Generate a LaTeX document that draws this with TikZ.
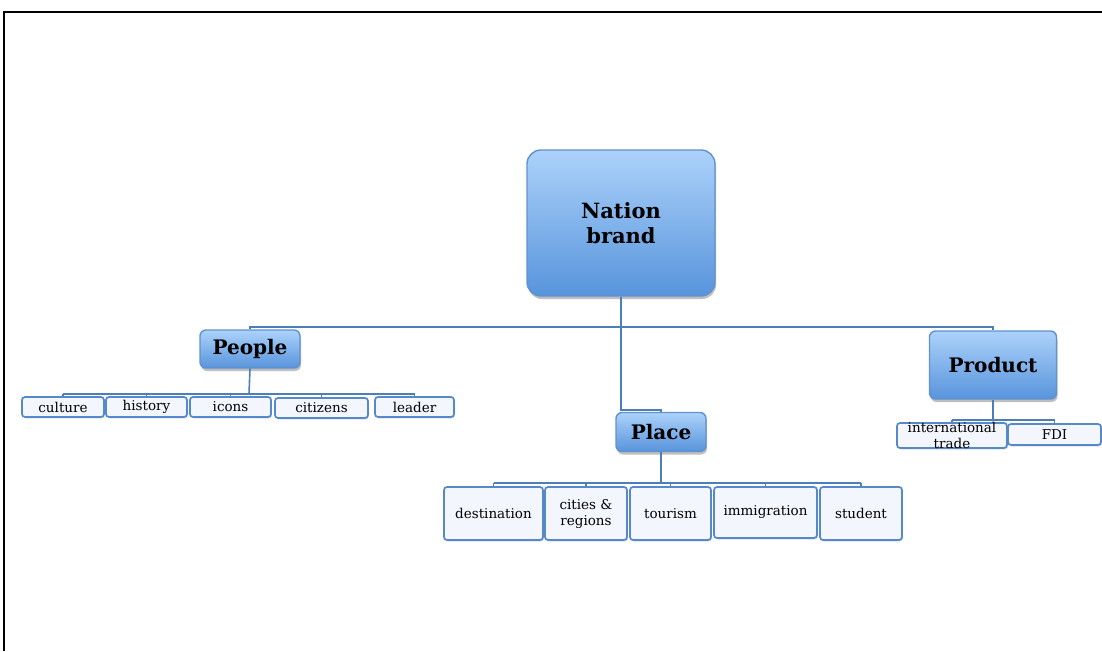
\documentclass[tikz,border=0pt]{standalone}
\usepackage{fontspec}
\setmainfont{DejaVu Serif}
\usetikzlibrary{positioning, shadows, calc}

\definecolor{brandtop}{RGB}{172,210,250}
\definecolor{brandbottom}{RGB}{88,148,220}
\definecolor{brandedge}{RGB}{96,146,208}
\definecolor{linkblue}{RGB}{76,126,186}
\definecolor{leaffill}{RGB}{243,247,253}
\definecolor{leafedge}{RGB}{86,136,204}

\tikzset{
  brandbox/.style={draw=brandedge, line width=1.4pt, rounded corners=14pt,
    top color=brandtop, bottom color=brandbottom,
    drop shadow={opacity=0.5, shadow xshift=1pt, shadow yshift=-3pt},
    font=\bfseries\fontsize{21}{25}\selectfont, align=center, inner sep=0pt},
  pillarbox/.style={brandbox, rounded corners=6pt, font=\bfseries\fontsize{20}{23}\selectfont},
  leafbox/.style={draw=leafedge, line width=1.7pt, rounded corners=3pt, fill=leaffill,
    drop shadow={opacity=0.25, shadow xshift=1pt, shadow yshift=-1.5pt},
    font=\fontsize{13.5}{16}\selectfont, align=center, inner sep=0pt},
  link/.style={draw=linkblue, line width=1.6pt}
}

\begin{document}
\begin{tikzpicture}[x=1pt, y=-1pt]
        \useasboundingbox (0,0) rectangle (1102,651);
        \fill[white] (0,0) rectangle (1102,651);
        \draw[line width=2pt] (4,651) -- (4,12) -- (1102,12);

        % top level
        \node[brandbox, minimum width=188, minimum height=146] (nation) at (621,223) {Nation\\brand};

        % pillars
        \node[pillarbox, minimum width=100, minimum height=38] (people) at (250,349) {People};
        \node[pillarbox, minimum width=90, minimum height=39] (place) at (661,432) {Place};
        \node[pillarbox, minimum width=127, minimum height=68] (product) at (993,365) {Product};

        % people leaves
        \node[leafbox, minimum width=82, minimum height=20] (culture) at (63,407) {culture};
        \node[leafbox, minimum width=81, minimum height=20] (history) at (146.5,407) {history};
        \node[leafbox, minimum width=81, minimum height=20] (icons) at (230.5,407) {icons};
        \node[leafbox, minimum width=93, minimum height=20] (citizens) at (321.5,408) {citizens};
        \node[leafbox, minimum width=79, minimum height=20] (leader) at (414.5,407) {leader};

        % place leaves
        \node[leafbox, minimum width=99, minimum height=53] (destination) at (493.5,513.5) {destination};
        \node[leafbox, minimum width=82, minimum height=53] (cities) at (586,513.5) {cities \&\\regions};
        \node[leafbox, minimum width=81, minimum height=53] (tourism) at (670.5,513.5) {tourism};
        \node[leafbox, minimum width=103, minimum height=51] (immigration) at (765.5,512.5) {immigration};
        \node[leafbox, minimum width=82, minimum height=53] (student) at (861,513.5) {student};

        % product leaves
        \node[leafbox, minimum width=110, minimum height=25] (trade) at (952,435.5) {};
        \node[font=\fontsize{13.5}{16}\selectfont, align=center, inner sep=0pt] (tradetext) at (trade) {international\\trade};
        \node[leafbox, minimum width=93, minimum height=21] (fdi) at (1054.5,434.5) {FDI};

        % connectors
        \coordinate (bus) at (621,327);
        \coordinate (placeknee) at (621,410);
        \draw[link] (nation.south) -- (placeknee) -| (place.north);
        \draw[link] (people.north) -- (people.north |- bus) -- (product.north |- bus) -- (product.north);

        \coordinate (peoplebar) at (249,394);
        \draw[link] (people.south) -- (peoplebar);
        \draw[link] (culture.north |- peoplebar) -- (leader.north |- peoplebar);
        \foreach \leaf in {culture, history, icons, citizens, leader}
            \draw[link] (\leaf.north) -- (\leaf.north |- peoplebar);

        \coordinate (placebar) at (661,483);
        \draw[link] (place.south) -- (placebar);
        \draw[link] (destination.north |- placebar) -- (student.north |- placebar);
        \foreach \leaf in {destination, cities, tourism, immigration, student}
            \draw[link] (\leaf.north) -- (\leaf.north |- placebar);

        \coordinate (productbar) at (993,420);
        \draw[link] (product.south) -- (productbar);
        \draw[link] (trade.north |- productbar) -- (fdi.north |- productbar);
        \foreach \leaf in {trade, fdi}
            \draw[link] (\leaf.north) -- (\leaf.north |- productbar);
\end{tikzpicture}
\end{document}
